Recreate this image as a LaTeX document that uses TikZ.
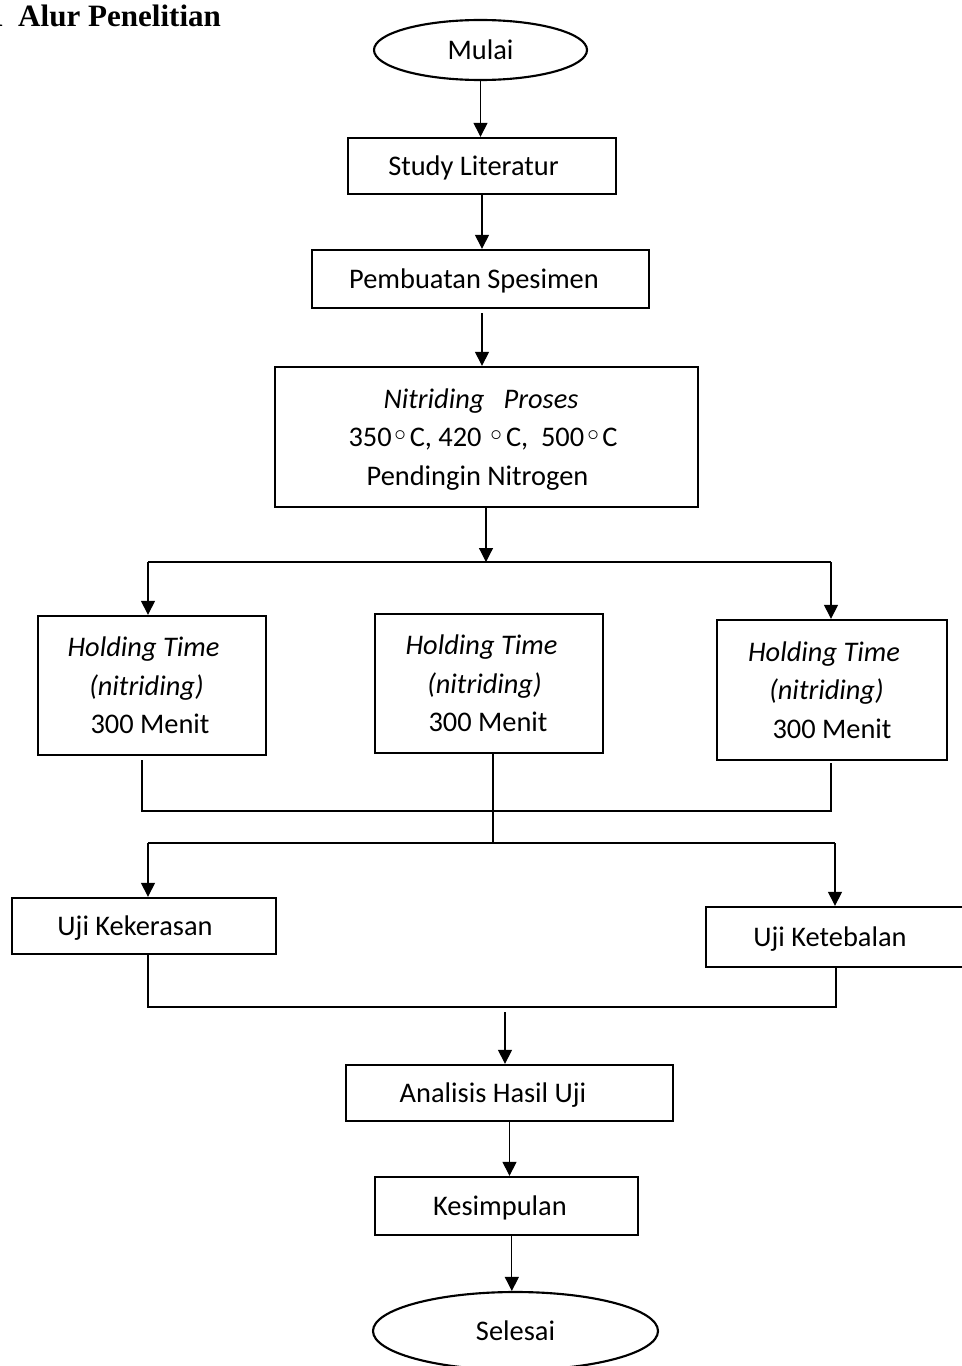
\documentclass[tikz,border=0pt]{standalone}
\usepackage{fontspec}
\setmainfont{Carlito}
\newfontfamily\titlefont{Liberation Serif}
\newfontfamily\symfont{DejaVu Sans}
\usetikzlibrary{arrows.meta,shapes.geometric}
\def\PX{0.75pt}
\newcommand{\degr}{{\symfont\fontsize{23pt}{24pt}\selectfont ◦}}
\begin{document}
\begin{tikzpicture}[x=0.75pt,y=-0.75pt,
  txt/.style={font=\fontsize{21.3pt}{28.9pt}\selectfont},
  box/.style={txt,draw,line width=1.75pt,rectangle,inner sep=0pt,text depth=0pt},
  mbox/.style={box,align=center},
  term/.style={txt,draw,line width=1.6pt,ellipse,inner sep=0pt,text depth=0pt},
  conn/.style={line width=0.9pt},
  arr/.style={conn,-{Triangle[width=10.5pt,length=10.5pt]}}]
\useasboundingbox (0,0) rectangle (961,1366);

\node[anchor=base west,inner sep=0pt,font=\titlefont\fontsize{23.3pt}{28pt}\bfseries\selectfont] (title) at (-12,27) {1\ \kern5pt Alur Penelitian};

\node[term,minimum width=213*\PX,minimum height=60*\PX] (mulai) at (480.5,50) {Mulai};
\node[box,minimum width=268*\PX,minimum height=56*\PX] (study) at (482,166) {Study Literatur\kern12.75pt};
\node[box,minimum width=337*\PX,minimum height=58*\PX] (spes) at (480.5,279) {Pembuatan Spesimen\kern9.75pt};
\node[mbox,minimum width=423*\PX,minimum height=140*\PX] (nitr) at (486.5,437)
  {\textit{Nitriding\ \ \ Proses}\kern8.25pt\\
   350\degr C, 420 \degr C,\ \ 500\degr C\kern5.25pt\\
   Pendingin Nitrogen\kern13.5pt};

\node[mbox,minimum width=228*\PX,minimum height=139*\PX] (hold1) at (152,685.5)
  {\textit{Holding Time}\kern12.75pt\\ \textit{(nitriding)}\kern8.25pt\\ 300\ Menit\kern3pt};
\node[mbox,minimum width=228*\PX,minimum height=139*\PX] (hold2) at (489,683.5)
  {\textit{Holding Time}\kern11.25pt\\ \textit{(nitriding)}\kern6.75pt\\ 300\ Menit\kern1.5pt};
\node[mbox,minimum width=230*\PX,minimum height=140*\PX] (hold3) at (832,690)
  {\textit{Holding Time}\kern12pt\\ \textit{(nitriding)}\kern8.25pt\\ 300\ Menit};

\node[box,minimum width=264*\PX,minimum height=56*\PX] (keker) at (144,926) {Uji Kekerasan\kern13.5pt};
\node[box,minimum width=260*\PX,minimum height=60*\PX] (keteb) at (836,937) {Uji Ketebalan\kern9pt};

\node[box,minimum width=327*\PX,minimum height=56*\PX] (anal) at (509.5,1093) {Analisis Hasil Uji\kern24.75pt};
\node[box,minimum width=263*\PX,minimum height=58*\PX] (kes) at (506.5,1206) {Kesimpulan\kern9.75pt};
\node[term,minimum width=285*\PX,minimum height=78*\PX] (sel) at (515.5,1331) {Selesai};

\coordinate (j1) at (486,562);
\coordinate (j1l) at (148,562);
\coordinate (j1r) at (831,562);
\coordinate (j2l) at (142,811);
\coordinate (j2r) at (831,811);
\coordinate (j3) at (493,843);
\coordinate (j3l) at (148,843);
\coordinate (j3r) at (835,843);
\coordinate (j4l) at (148,1007);
\coordinate (j4r) at (836,1007);
\coordinate (j5) at (505,1012);

\draw[arr] (mulai.south) -- (mulai.south |- study.north);
\draw[arr] (study.south) -- (study.south |- spes.north);
\draw[arr] ([yshift=-3pt]spes.south -| study.south) -- (study.south |- nitr.north);
\draw[arr] (nitr.south -| j1) -- (j1);
\draw[conn] (j1l) -- (j1r);
\draw[arr] (j1l) -- (j1l |- hold1.north);
\draw[arr] (j1r) -- (j1r |- hold3.north);

\draw[conn] ([yshift=-3pt]hold1.south -| j2l) -- (j2l) -- (j2r) -- ([yshift=-1.5pt]hold3.south -| j2r);
\draw[conn] (hold2.south -| j3) -- (j3);
\draw[conn] (j3l) -- (j3r);
\draw[arr] (j3l) -- (j3l |- keker.north);
\draw[arr] (j3r) -- (j3r |- keteb.north);

\draw[conn] (keker.south -| j4l) -- (j4l) -- (j4r) -- ([yshift=2pt]keteb.south -| j4r);
\draw[arr] (j5) -- (j5 |- anal.north);
\draw[arr] (anal.south) -- (anal.south |- kes.north);
\draw[arr] ([xshift=4pt]kes.south) -- ([xshift=4pt]kes.south |- sel.north);
\end{tikzpicture}
\end{document}
